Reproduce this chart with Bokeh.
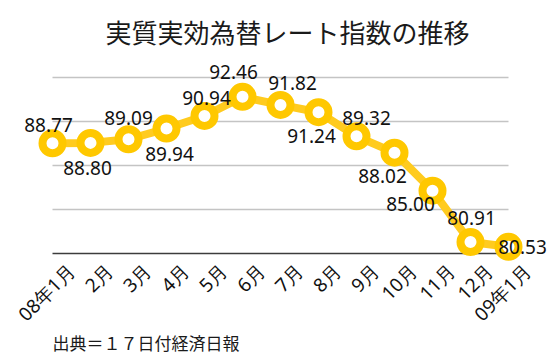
import math
from bokeh.plotting import figure
from bokeh.models import ColumnDataSource, LabelSet, Label, LinearAxis, Range1d, FixedTicker, Title
from bokeh.core.properties import value
from bokeh.embed import file_html
from bokeh.resources import INLINE

# ---- data ----
months = ["08年1月", "2月", "3月", "4月", "5月", "6月", "7月", "8月",
          "9月", "10月", "11月", "12月", "09年1月"]
index_values = [88.77, 88.80, 89.09, 89.94, 90.94, 92.46, 91.82, 91.24,
                89.32, 88.02, 85.00, 80.91, 80.53]
grid_values = [80, 83.5, 87, 90.5, 94]
title_text = "実質実効為替レート指数の推移"
source_text = "出典＝１７日付経済日報"

# label placement (screen px offsets from each point)
label_dx = [-4, -3, 0, 3, 2, -9, 12, -7, 10, -12, -22, 1, 14]
label_dy = [18, -25, 21, -25, 18, 25, 22, -24, 18, -23, -13, 24, 0]

CJK = "Noto Sans CJK JP"
LAT = "Noto Sans"
n = len(months)
xs = list(range(n))

src = ColumnDataSource(dict(
    x=xs, y=index_values,
    txt=[f"{v:.2f}" for v in index_values],
    dx=label_dx, dy=label_dy,
))

W, H = 556, 363
FB = 262                      # frame bottom (canvas px)
x0, x1 = -52 / 38, 12 + (W - 52 - 12 * 38) / 38
y0 = 80 - (FB - 253) / 12.571
y1 = 80 + 253 / 12.571

p = figure(width=W, height=H, output_backend="svg", toolbar_location=None,
           x_range=Range1d(x0, x1), y_range=Range1d(y0, y1),
           x_axis_location=None, y_axis_location=None,
           min_border_left=0, min_border_right=0, min_border_top=0,
           min_border_bottom=H - FB,
           outline_line_color=None, background_fill_color="white")
p.grid.visible = False

# grid lines (only across the category span)
p.segment(x0=[0] * len(grid_values), x1=[n - 1] * len(grid_values),
          y0=grid_values, y1=grid_values,
          line_color=["#3c3c3c"] + ["#c4c4c4"] * (len(grid_values) - 1),
          line_width=1.6)

p.line(x="x", y="y", source=src, line_color="#FFCB1F", line_width=8)
p.scatter(x="x", y="y", source=src, size=20, fill_color="white",
          line_color="#FFC800", line_width=8)

p.add_layout(LabelSet(x="x", y="y", text="txt", source=src,
                      x_offset="dx", y_offset="dy",
                      text_align="center", text_baseline="middle",
                      text_font=value(LAT), text_font_size=value("19px"),
                      text_color=value("#111111")))

# category axis with rotated labels
d = 0.5
p.extra_x_ranges = {"lbl": Range1d(x0 - d, x1 - d)}
ax = LinearAxis(x_range_name="lbl", ticker=FixedTicker(ticks=xs),
                major_label_overrides={i: m for i, m in enumerate(months)},
                major_label_orientation=math.pi / 4,
                major_tick_out=0, major_tick_in=0, minor_tick_out=0, minor_tick_in=0,
                axis_line_color=None, major_label_standoff=5)
ax.major_label_text_font = LAT
ax.major_label_text_font_size = "19px"
ax.major_label_text_color = "#111111"
p.add_layout(ax, "below")

p.add_layout(Label(x=W / 2 + 9, y=31, x_units="canvas", y_units="canvas",
                   text=title_text, text_align="center", text_baseline="middle",
                   text_font=CJK, text_font_size="26px", text_color="#1a1a1a"))

foot = Title(text=source_text, align="left", offset=52, standoff=-21,
             text_font=CJK, text_font_size="17px", text_font_style="normal",
             text_color="#1a1a1a")
p.add_layout(foot, "below")

open("out.html", "w").write(file_html(p, INLINE))
